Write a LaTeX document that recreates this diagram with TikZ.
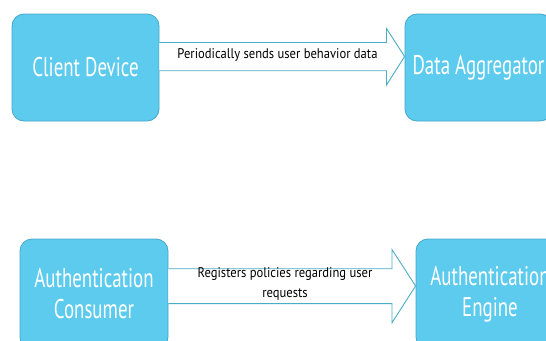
\documentclass[tikz,border=0pt]{standalone}
\usepackage{fontspec}
\newfontfamily\boxfont[FakeStretch=0.70]{PT Sans}
\newfontfamily\lblfont[FakeStretch=0.90]{PT Sans}
\usetikzlibrary{calc}
\definecolor{boxfill}{HTML}{5DCBEE}
\definecolor{boxline}{HTML}{45A8CB}
\definecolor{arrline}{HTML}{4BACC6}
\tikzset{
  box/.style={draw=boxline, line width=0.8pt, fill=boxfill, rounded corners=12pt,
    minimum width=147pt, minimum height=107pt, inner sep=0pt, text=white, align=center,
    font=\boxfont\fontsize{27}{31}\selectfont},
  bigarrow/.style={draw=arrline, line width=0.9pt, fill=white, line join=miter},
  lbl/.style={text=black, align=center, inner sep=0pt, font=\lblfont\fontsize{14}{20}\selectfont}
}
\begin{document}
\begin{tikzpicture}[x=1pt,y=-1pt]
\useasboundingbox (0,0) rectangle (546,340);
\clip (0,0) rectangle (546,340);
\fill[white] (0,0) rectangle (546,340);
% nodes
\node[box] (cd) at (85.5,67.5) {Client Device};
\node[box] (da) at (478.5,67.5) {Data Aggregator};
\node[box, minimum width=148pt, minimum height=110pt] (ac) at (94,294) {Authentication\\Consumer};
\node[box, minimum width=148pt, minimum height=110pt] (ae) at (490,294) {Authentication\\Engine};
% top arrow
\draw[bigarrow] (cd.east |- 0,42.5) -- (386.5,42.5) -- (386.5,28.5) -- (da.west |- 0,56.5)
  -- (386.5,85) -- (386.5,70.7) -- (cd.east |- 0,70.7);
\node[lbl] (l1) at (277.5,55) {Periodically sends user behavior data};
% bottom arrow
\draw[bigarrow] (ac.east |- 0,268.7) -- (392,268.7) -- (392,249.6) -- (ae.west |- 0,286)
  -- (392,322.7) -- (392,303.6) -- (ac.east |- 0,303.6);
\node[lbl] (l2) at (285,284) {Registers policies regarding user\\requests};
\end{tikzpicture}
\end{document}
